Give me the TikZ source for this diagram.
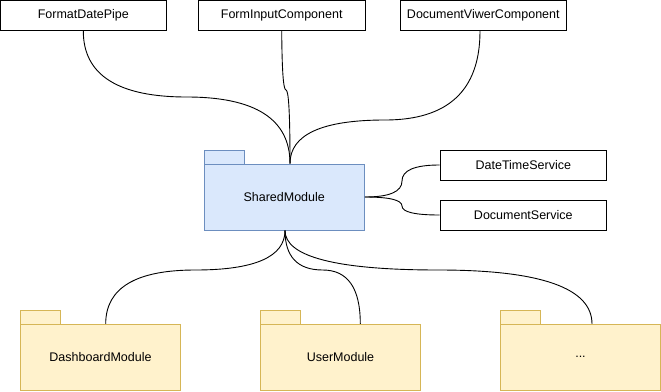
\documentclass[tikz,border=0pt]{standalone}
\usepackage{fontspec}
\setmainfont{Liberation Sans}
\definecolor{sharedfill}{HTML}{DAE8FC}
\definecolor{sharedline}{HTML}{6C8EBF}
\definecolor{modfill}{HTML}{FFF2CC}
\definecolor{modline}{HTML}{D6B656}
\tikzset{
  lbl/.style={font=\fontsize{12.5}{15}\selectfont, text=black, inner sep=0pt},
  plainbox/.style={lbl, draw=black, fill=white, line width=0.9pt, minimum width=166.7pt, minimum height=30.5pt},
  sharedbody/.style={lbl, draw=sharedline, fill=sharedfill, line width=0.9pt, minimum width=160.3pt, minimum height=66pt},
  sharedtab/.style={draw=sharedline, fill=sharedfill, line width=0.9pt, inner sep=0pt, minimum width=40.3pt, minimum height=14pt},
  modbody/.style={lbl, draw=modline, fill=modfill, line width=0.9pt, minimum width=159.6pt, minimum height=65.7pt},
  modtab/.style={draw=modline, fill=modfill, line width=0.9pt, inner sep=0pt, minimum width=39.6pt, minimum height=13.6pt},
  link/.style={draw=black, line width=0.9pt}
}
\begin{document}
\begin{tikzpicture}[x=1pt, y=-1pt]
\useasboundingbox (0,0) rectangle (661,391);
% top boxes
\node[plainbox] (fdp) at (83.3,15.3) {FormatDatePipe};
\node[plainbox] (fic) at (281.7,15.3) {FormInputComponent};
\node[plainbox] (dvc) at (483.3,15.3) {DocumentViwerComponent};
% shared module
\node[sharedtab] (sharedtabnode) at (224.2,157) {};
\node[sharedbody] (shared) at (284.2,197) {SharedModule};
% services
\node[plainbox, minimum height=30pt] (dts) at (523.3,165) {DateTimeService};
\node[plainbox, minimum height=30pt] (ds) at (523.3,215) {DocumentService};
% bottom modules
\node[modtab] (dashtab) at (40.5,317.5) {};
\node[modbody] (dash) at (100.5,357.2) {DashboardModule};
\node[modtab] (usertab) at (280.5,317.5) {};
\node[modbody] (user) at (340.5,357.2) {UserModule};
\node[modtab] (moretab) at (520.5,317.5) {};
\node[modbody] (more) at (580.5,357.2) {...};
% connectors top
\draw[link] (fdp.south) .. controls (83.3,74.9) and (117.8,97) .. (186.7,97)
  .. controls (255.6,97) and (290,119.3) .. ([xshift=5.8pt]shared.north);
\draw[link] (fic.south) .. controls (282,70.2) and (283.3,90) .. (286,90)
  .. controls (288.7,90) and (290,114.7) .. ([xshift=5.8pt]shared.north);
\draw[link] ([xshift=-3.3pt]dvc.south) .. controls (480,90.2) and (448.3,120) .. (385,120)
  .. controls (321.7,120) and (290,134.7) .. ([xshift=5.8pt]shared.north);
% connectors right
\draw[link] (shared.east) .. controls (389.4,197) and (402,191.7) .. (402,181)
  .. controls (402,170.3) and (414.7,165) .. (dts.west);
\draw[link] (shared.east) .. controls (389.4,197) and (402,200) .. (402,206)
  .. controls (402,212) and (414.7,215) .. (ds.west);
% connectors bottom
\draw[link] ([xshift=0.8pt]shared.south) .. controls (285,256.7) and (255.1,270) .. (195.3,270)
  .. controls (135.5,270) and (105.7,288.1) .. ([xshift=5.2pt]dash.north);
\draw[link] ([xshift=0.8pt]shared.south) .. controls (285,256.7) and (297.6,270) .. (322.7,270)
  .. controls (347.8,270) and (360.3,288.1) .. ([xshift=19.8pt]user.north);
\draw[link] ([xshift=0.8pt]shared.south) .. controls (285,256.7) and (336.2,270) .. (438.5,270)
  .. controls (540.8,270) and (592,288.1) .. ([xshift=11.5pt]more.north);
\end{tikzpicture}
\end{document}
